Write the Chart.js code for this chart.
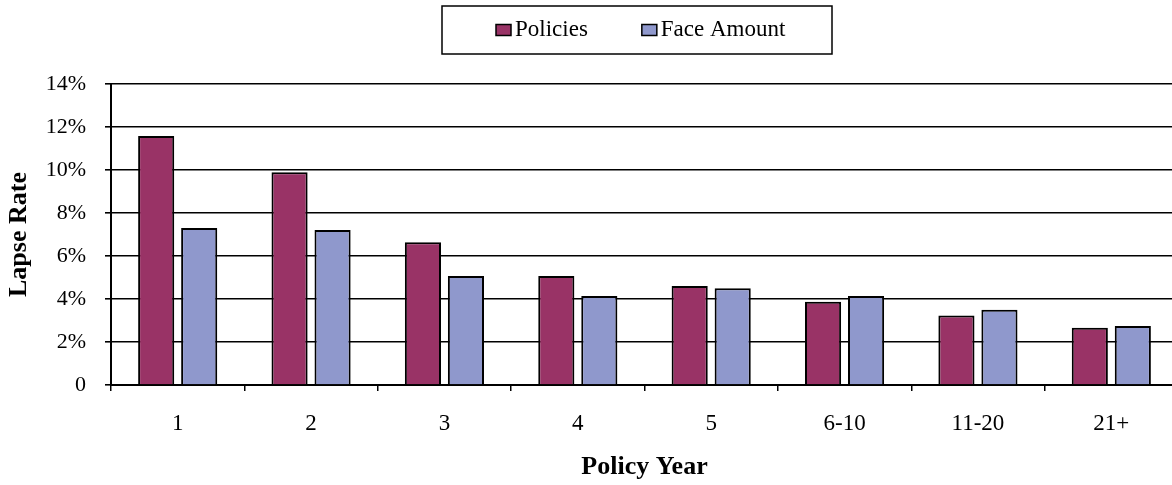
<!DOCTYPE html>
<html>
<head>
<meta charset="utf-8">
<script src="https://cdn.jsdelivr.net/npm/chart.js@4.4.1/dist/chart.umd.min.js"></script>
<style>
  html, body { margin:0; padding:0; background:#fff; overflow:hidden; }
  #wrap { width:1180px; height:485px; }
</style>
</head>
<body>
<div id="wrap"><canvas id="chart"></canvas></div>
<script>
/* DATA (percent) */
const categories = ["1", "2", "3", "4", "5", "6-10", "11-20", "21+"];
const policies   = [11.58, 9.9, 6.64, 5.07, 4.6, 3.87, 3.23, 2.66];
const faceAmount = [7.3, 7.21, 5.07, 4.14, 4.5, 4.14, 3.5, 2.75];
const yTicks     = [0, 2, 4, 6, 8, 10, 12, 14];

/* STYLE */
const SERIF = "'Liberation Serif', 'Times New Roman', serif";
Chart.defaults.font.family = SERIF;
Chart.defaults.color = "#000";

/* legend drawn in a box, like the old office charts */
const boxLegend = {
  id: "boxLegend",
  afterDraw(chart, args, o) {
    const ctx = chart.ctx;
    ctx.save();
    ctx.strokeStyle = "#000";
    ctx.lineWidth = 1.5;
    ctx.strokeRect(o.x, o.y, o.w, o.h);
    ctx.font = o.font;
    ctx.textBaseline = "middle";
    ctx.textAlign = "left";
    const cy = o.y + o.h / 2;
    let x = o.startX;
    chart.data.datasets.forEach(ds => {
      ctx.fillStyle = ds.backgroundColor;
      ctx.fillRect(x, cy - o.boxH / 2, o.boxW, o.boxH);
      ctx.strokeRect(x, cy - o.boxH / 2, o.boxW, o.boxH);
      ctx.fillStyle = "#000";
      ctx.fillText(ds.label, x + o.boxW + o.gap, cy);
      x += o.boxW + o.gap + ctx.measureText(ds.label).width + o.itemGap;
    });
    ctx.restore();
  }
};

new Chart(document.getElementById("chart"), {
  type: "bar",
  data: {
    labels: categories,
    datasets: [
      { label: "Policies", data: policies, backgroundColor: "#993366",
        borderColor: "#000", borderWidth: 2 },
      { label: "Face Amount", data: faceAmount, backgroundColor: "#8f98cc",
        borderColor: "#000", borderWidth: 2 }
    ]
  },
  options: {
    responsive: true,
    maintainAspectRatio: false,
    animation: false,
    datasets: { bar: { categoryPercentage: 0.645, barPercentage: 0.84 } },
    layout: { padding: { top: 84, right: 2, left: 0, bottom: 0 } },
    plugins: {
      legend: { display: false },
      tooltip: { enabled: false },
      boxLegend: {
        x: 442, y: 6, w: 390, h: 48,
        startX: 496, boxW: 15, boxH: 11, gap: 4, itemGap: 54,
        font: "23px " + SERIF
      }
    },
    scales: {
      x: {
        afterFit: s => { s.height = 100; },
        grid: { drawOnChartArea: false, offset: true, tickLength: 6, color: "#000", lineWidth: 1.5 },
        border: { color: "#000", width: 2 },
        ticks: { font: { size: 23 }, padding: 19, color: "#000" },
        title: { display: true, text: "Policy Year", font: { size: 26, weight: "bold" },
                 padding: { top: 0, bottom: 2 }, color: "#000" }
      },
      y: {
        min: 0, max: 14,
        afterFit: s => { s.width = 111; },
        afterBuildTicks: s => { s.ticks = yTicks.map(v => ({ value: v })); },
        grid: { color: "#000", lineWidth: 1.6, tickLength: 6 },
        border: { color: "#000", width: 2 },
        ticks: { font: { size: 22 }, padding: 19, color: "#000",
                 callback: v => v === 0 ? "0" : v + "%" },
        title: { display: true, text: "Lapse Rate", font: { size: 26, weight: "bold" },
                 padding: { top: 4, bottom: 0 }, color: "#000" }
      }
    }
  },
  plugins: [boxLegend]
});
</script>
</body>
</html>
